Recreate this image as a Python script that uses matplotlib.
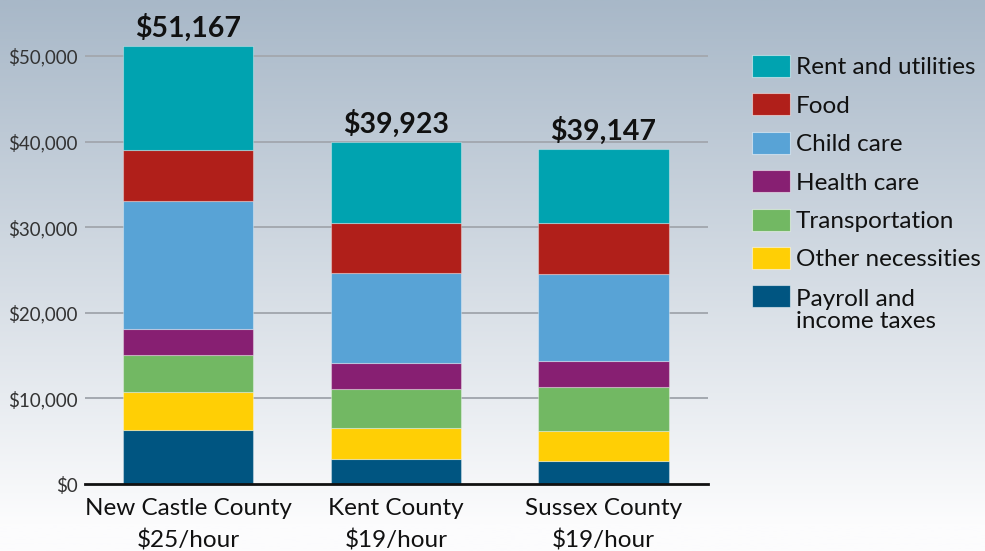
import numpy as np
import matplotlib
matplotlib.use("Agg")
import matplotlib.pyplot as plt
from matplotlib.patches import Rectangle

plt.rcParams['font.family'] = ['Lato', 'DejaVu Sans']

counties = ["New Castle County\n$25/hour", "Kent County\n$19/hour", "Sussex County\n$19/hour"]
totals = [51167, 39923, 39147]
total_labels = ["$51,167", "$39,923", "$39,147"]

# bottom to top stacking order
categories = ["Payroll and\nincome taxes", "Other necessities", "Transportation",
              "Health care", "Child care", "Food", "Rent and utilities"]
taxes = [6280, 2920, 2690]
other = [4430, 3670, 3550]
transportation = [4390, 4560, 5070]
health = [3040, 3000, 3080]
child_care = [14950, 10490, 10170]
food = [5950, 5850, 5930]
rent = [12127, 9433, 8657]

colors = ["#005581", "#ffcf05", "#72b863", "#871f72", "#58a3d6", "#b01f1a", "#00a3b0"]
series = [taxes, other, transportation, health, child_care, food, rent]

W, H = 985, 551
fig = plt.figure(figsize=(W / 100, H / 100), dpi=100)

# gradient background
bg = fig.add_axes([0, 0, 1, 1], zorder=-10)
grad = np.linspace(0, 1, 256).reshape(-1, 1)
top = np.array([168, 184, 200]) / 255
bot = np.array([252, 252, 253]) / 255
t = np.clip(grad * 1.05, 0, 1)
img = top[None, None, :] * (1 - t[..., None]) + bot[None, None, :] * t[..., None]
bg.imshow(img, aspect='auto', extent=[0, 1, 0, 1], origin='upper')
bg.set_axis_off()

left, right = 85, 708
ybase, ytop = 484, 13.2
ax = fig.add_axes([left / W, 1 - ybase / H, (right - left) / W, (ybase - ytop) / H])
ax.patch.set_alpha(0)

x = np.arange(len(counties))
bottom = np.zeros(len(counties))
for vals, c in zip(series, colors):
    ax.bar(x, vals, width=0.626, bottom=bottom, color=c, edgecolor=(1, 1, 1, 0.35),
           linewidth=0.8, zorder=3)
    bottom += np.array(vals)

for xi, tot, lab in zip(x, totals, total_labels):
    ax.annotate(lab, (xi, tot), xytext=(0, 6.5), textcoords='offset points',
                ha='center', va='baseline', fontsize=20.5, fontweight='bold', color='#111111')

ax.set_xlim(-0.4958, 2.503)
ax.set_ylim(0, 55000)
ax.set_yticks([0, 10000, 20000, 30000, 40000, 50000])
ax.set_yticklabels(["$0", "$10,000", "$20,000", "$30,000", "$40,000", "$50,000"],
                   fontsize=13.5, color='#333333')
ax.set_xticks(x)
ax.set_xticklabels(counties, fontsize=17.5, color='#111111', linespacing=1.58)
ax.tick_params(axis='both', length=0)
ax.tick_params(axis='y', pad=5)
ax.tick_params(axis='x', pad=10)
for s in ['top', 'right', 'left']:
    ax.spines[s].set_visible(False)
ax.spines['bottom'].set_linewidth(2)
ax.spines['bottom'].set_color('#111111')
ax.spines['bottom'].set_zorder(5)
ax.yaxis.grid(True, color='#a4a9b0', linewidth=1.4, zorder=0)
ax.set_axisbelow(True)
for gl in ax.get_ygridlines()[:1]:
    gl.set_visible(False)

# legend (top to bottom)
leg_items = list(zip(categories, colors))[::-1]
y0 = 66
for i, (lab, c) in enumerate(leg_items):
    yc = y0 + i * 38.4
    fig.add_artist(Rectangle((752 / W, 1 - (yc + 11) / H), 38 / W, 22 / H,
                             transform=fig.transFigure, facecolor=c,
                             edgecolor=(1, 1, 1, 0.5), linewidth=0.8))
    ty = yc + (14 if "\n" in lab else 2)
    fig.text(796 / W, 1 - ty / H, lab, ha='left', va='center', fontsize=17.5,
             color='#111111', linespacing=1.1)

fig.savefig("out.png", dpi=100)
